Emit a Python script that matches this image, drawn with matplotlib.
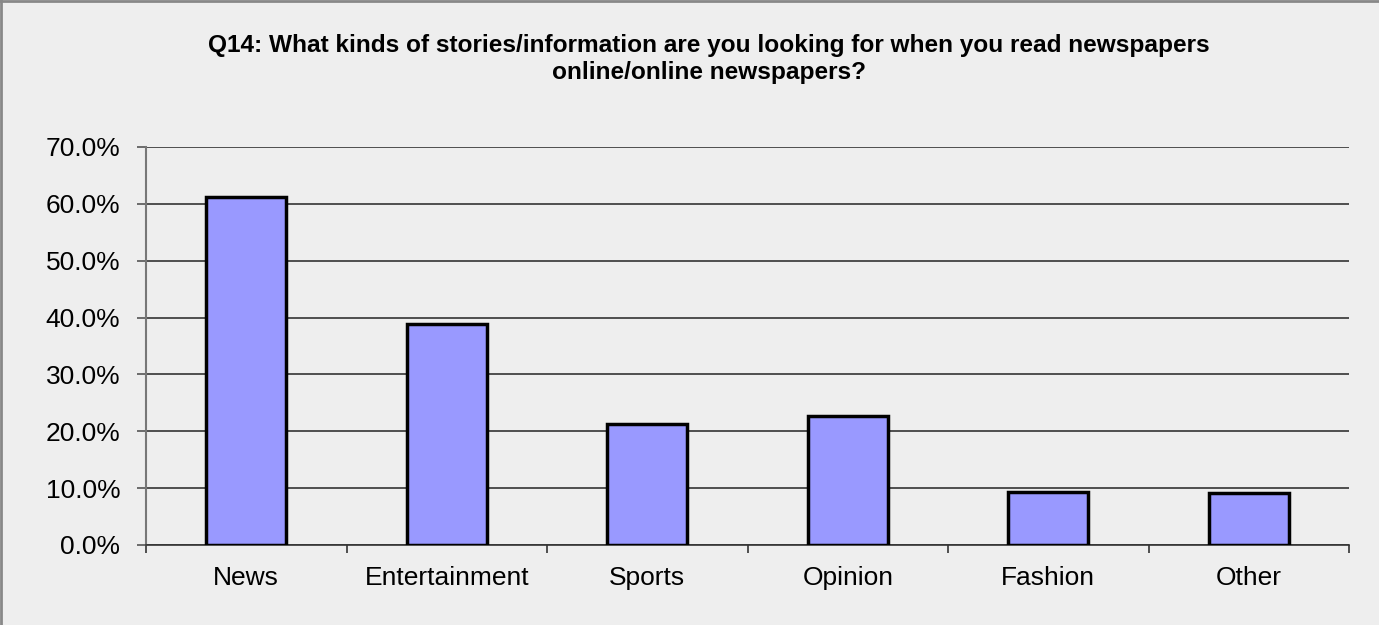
import matplotlib
matplotlib.use('Agg')
import matplotlib.pyplot as plt
from matplotlib.lines import Line2D
from matplotlib.ticker import FuncFormatter

categories = ['News', 'Entertainment', 'Sports', 'Opinion', 'Fashion', 'Other']
percentages = [61.2, 38.9, 21.3, 22.7, 9.3, 9.1]
y_ticks = [0, 10, 20, 30, 40, 50, 60, 70]

title = ('Q14: What kinds of stories/information are you looking for when you read newspapers\n'
         'online/online newspapers?')

plt.rcParams['font.family'] = ['Liberation Sans', 'DejaVu Sans']

bg = '#eeeeee'
fig = plt.figure(figsize=(13.79, 6.25), dpi=100, facecolor=bg)
ax = fig.add_axes([146 / 1379, 80 / 625, 1203 / 1379, 398 / 625])
ax.set_facecolor(bg)

x = list(range(len(categories)))
ax.bar(x, percentages, width=0.4, color='#9999ff', edgecolor='black', linewidth=2.5, zorder=3)

ax.set_xlim(-0.5, len(categories) - 0.5)
ax.set_ylim(0, 70)
ax.set_yticks(y_ticks)
ax.yaxis.set_major_formatter(FuncFormatter(lambda v, p: f'{v:.1f}%'))
ax.grid(axis='y', color='#333333', linewidth=1.2, zorder=0)

# category ticks sit between the bars
ax.set_xticks(x)
ax.set_xticklabels(categories)
ax.set_xticks([i - 0.5 for i in range(len(categories) + 1)], minor=True)
ax.tick_params(axis='x', which='major', length=0, pad=15, labelsize=19)
ax.tick_params(axis='x', which='minor', length=5.8, width=1.2, color='#333333', direction='out')
ax.tick_params(axis='y', length=6.5, width=1.2, color='#555555', direction='out', pad=12, labelsize=19)

for side in ['top', 'right']:
    ax.spines[side].set_visible(False)
ax.spines['left'].set_color('#777777')
ax.spines['left'].set_linewidth(1.5)
ax.spines['bottom'].set_color('#333333')
ax.spines['bottom'].set_linewidth(1.2)

fig.text(709 / 1379, 1 - 59 / 625, title, ha='center', va='center', fontsize=17.6,
         fontweight='bold', linespacing=1.2)

# chart border
fig.add_artist(Line2D([0.001, 0.001], [0, 1], transform=fig.transFigure, color='#888888', linewidth=2))
fig.add_artist(Line2D([0, 1], [0.999, 0.999], transform=fig.transFigure, color='#888888', linewidth=2))

fig.savefig('out.png', dpi=100, facecolor=bg)
